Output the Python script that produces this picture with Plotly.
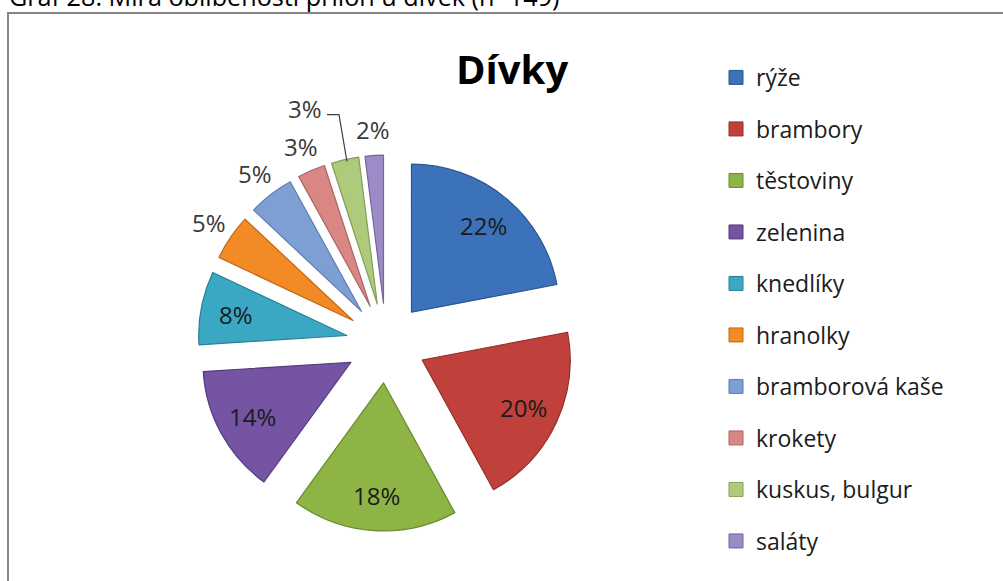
import math
import plotly.graph_objects as go

# Oblíbenost příloh u dívek (podíl odpovědí v %)
categories = ["rýže", "brambory", "těstoviny", "zelenina", "knedlíky",
              "hranolky", "bramborová kaše", "krokety", "kuskus, bulgur", "saláty"]
shares = [22, 20, 18, 14, 8, 5, 5, 3, 3, 2]

fill_colors = ["#3B72B9", "#C0413C", "#8EB445", "#7454A3", "#3AA7C3",
               "#F28A26", "#7E9FD3", "#D98785", "#AECB7C", "#9C8BC6"]
edge_colors = ["#2A578F", "#912E2B", "#6A8A30", "#55397D", "#2A7E95",
               "#C0681A", "#5D7DAF", "#AB6462", "#849D5D", "#75679A"]

W, H = 1003, 581
FONT = "Open Sans"
PULL = 0.27

# pie box in pixels (left, top, size) -> paper domain
BOX_L, BOX_T, BOX = 198, 155, 376
dom_x = [BOX_L / W, (BOX_L + BOX) / W]
dom_y = [1 - (BOX_T + BOX) / H, 1 - BOX_T / H]

fig = go.Figure()
fig.add_trace(go.Pie(
    labels=categories,
    values=shares,
    sort=False,
    direction="clockwise",
    rotation=0,
    pull=[PULL] * len(shares),
    marker=dict(colors=fill_colors, line=dict(color=edge_colors, width=1.2)),
    textinfo="none",
    domain=dict(x=dom_x, y=dom_y),
    showlegend=False,
    hoverinfo="label+percent",
))

# percentage labels along each slice's bisector:
# big slices inside, small ones just beyond their pulled-out edge
cx = BOX_L + BOX / 2
cy = BOX_T + BOX / 2
r = BOX / (2 + 2 * PULL)
total = sum(shares)
annotations = []
shapes = []
start = 90.0
for name, v in zip(categories, shares):
    sweep = 360.0 * v / total
    mid = math.radians(start - sweep / 2)
    start -= sweep
    label = f"{round(100 * v / total)}%"
    ux, uy = math.cos(mid), -math.sin(mid)
    if v >= 8:
        rl = r * (PULL + 0.76)
        color = "#1b1b1b"
    else:
        rl = r * (1 + PULL) + 26
        color = "#3a3a3a"
    lx, ly = cx + rl * ux, cy + rl * uy
    if name == "kuskus, bulgur":
        # lifted above its neighbours, tied back to the slice with a leader line
        tipx = cx + r * (1 + PULL) * ux
        tipy = cy + r * (1 + PULL) * uy
        lx, ly = tipx - 40, tipy - 51
        shapes.append(dict(
            type="path", xref="paper", yref="paper",
            path=(f"M {(lx + 22) / W},{1 - (ly + 6) / H} "
                  f"L {(tipx - 6) / W},{1 - (ly + 6) / H} "
                  f"L {(tipx + 2) / W},{1 - (tipy + 2) / H}"),
            line=dict(color="#404040", width=1.2),
        ))
    annotations.append(dict(
        text=label, xref="paper", yref="paper", x=lx / W, y=1 - ly / H,
        xanchor="center", yanchor="middle", showarrow=False,
        font=dict(family=FONT, size=24, color=color),
    ))

# legend entries, one group each so they can be spaced out
for name, fc, ec in zip(categories, fill_colors, edge_colors):
    fig.add_trace(go.Scatter(
        x=[None], y=[None], mode="markers", name=name, legendgroup=name,
        marker=dict(symbol="square", size=14, color=fc, line=dict(color=ec, width=1)),
    ))

annotations += [
    dict(text="Graf 28: Míra oblíbenosti příloh u dívek (n=149)",
         xref="paper", yref="paper", x=7 / W, y=1 - 15 / H,
         xanchor="left", yanchor="bottom", showarrow=False,
         font=dict(family=FONT, size=25.2, color="#000000")),
    dict(text="<b>Dívky</b>", xref="paper", yref="paper",
         x=512 / W, y=1 - 69 / H, xanchor="center", yanchor="middle",
         showarrow=False, font=dict(family=FONT, size=40, color="#000000")),
]

shapes.append(dict(
    type="rect", xref="paper", yref="paper",
    x0=8 / W, y0=-0.02, x1=1.02, y1=1 - 13 / H,
    line=dict(color="#868686", width=2), fillcolor="rgba(0,0,0,0)", layer="below",
))

fig.update_layout(
    width=W, height=H,
    margin=dict(l=0, r=0, t=0, b=0, pad=0, autoexpand=False),
    paper_bgcolor="white", plot_bgcolor="white",
    xaxis=dict(visible=False), yaxis=dict(visible=False),
    font=dict(family=FONT, color="#1b1b1b"),
    showlegend=True,
    legend=dict(
        x=716 / W, xanchor="left", y=1 - 56 / H, yanchor="top",
        font=dict(family=FONT, size=23, color="#1b1b1b"),
        tracegroupgap=18.6, traceorder="grouped",
        bgcolor="rgba(0,0,0,0)", borderwidth=0,
    ),
    annotations=annotations,
    shapes=shapes,
)

fig.write_html("out.html")
